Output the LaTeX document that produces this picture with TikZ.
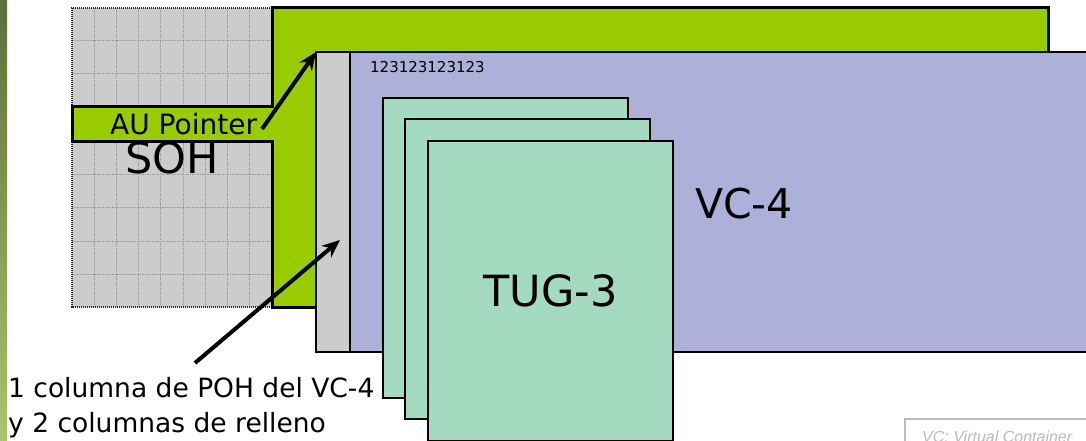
\documentclass[tikz,border=0pt]{standalone}
\usepackage{fontspec}
\setmainfont{DejaVu Sans}
\newfontfamily\arialfont{Liberation Sans}
\usetikzlibrary{arrows.meta}
\definecolor{augreen}{HTML}{99CC00}
\definecolor{sohgray}{HTML}{CCCCCC}
\definecolor{vcpurple}{HTML}{ADB0D8}
\definecolor{tugmint}{HTML}{A3DAC0}
\definecolor{stripTop}{HTML}{5F6E3A}
\definecolor{stripBot}{HTML}{AAC470}
\definecolor{noteGray}{HTML}{BBBBBB}
\tikzset{
  gridline/.style={draw=black!40, line width=1pt, dash pattern=on 1.5pt off 1pt},
  greenshape/.style={fill=augreen, draw=black, line width=3pt, line join=miter},
  boxline/.style={draw=black, line width=2pt},
  tug/.style={boxline, fill=tugmint, anchor=north west, inner sep=0pt,
    minimum width=245, minimum height=300},
  ptr/.style={line width=4pt, -{Stealth[length=18pt, width=15pt]}},
  lbl/.style={inner sep=0pt, anchor=base west},
}
\begin{document}
\begin{tikzpicture}[x=1pt,y=-1pt]
\path[clip] (0,0) rectangle (1086,441);
\fill[white] (0,0) rectangle (1086,441);
% left strip
\shade[top color=stripTop, bottom color=stripBot] (0,0) rectangle (7,441);
% SOH grid
\fill[sohgray] (72,8) rectangle (272,307);
\foreach \c in {1,...,8} {
  \draw[gridline] ({72+22.22*\c},8) -- ({72+22.22*\c},307);
}
\foreach \r in {41,74,174,207,241,274} {
  \draw[gridline] (72,\r) -- (272,\r);
}
\draw[black!85, line width=2pt, dash pattern=on 1.2pt off 0.8pt] (272,8) -- (72,8) -- (72,307) -- (272,307);
% green AU area with pointer band
\draw[greenshape] (272,8) -- (1048,8) -- (1048,307) -- (272,307) -- (272,141)
  -- (72,141) -- (72,107) -- (272,107) -- cycle;
% VC-4 with POH column
\filldraw[boxline, fill=vcpurple] (350,52) rectangle (1100,352);
\filldraw[boxline, fill=sohgray] (316,52) rectangle (350,352);
\coordinate (vctl) at (316,52);
\coordinate (pohpt) at (340,240);
% TUG-3 boxes
\node[tug] (tugA) at (382,97) {};
\node[tug] (tugB) at (404,118) {};
\node[tug, font=\fontsize{43}{46}\selectfont] (tugC) at (427,140) {TUG-3};
% texts
\node[lbl, font=\fontsize{15}{17}\selectfont] (bytes) at (370,73) {123123123123};
\node[lbl, font=\fontsize{28}{30}\selectfont] (aup) at (110,135) {AU Pointer};
\node[lbl, font=\fontsize{43}{46}\selectfont] (soh) at (125,173) {SOH};
\node[lbl, font=\fontsize{41}{44}\selectfont] (vc4) at (695,218) {VC-4};
\node[lbl, font=\fontsize{26.5}{30}\selectfont] (poh1) at (8,397) {1 columna de POH del VC-4};
\node[lbl, font=\fontsize{26.5}{30}\selectfont] (poh2) at (8,432) {y 2 columnas de relleno};
\coordinate (aupend) at (262,129);
\coordinate (pohstart) at (195,363);
% arrows
\draw[ptr] (aupend) -- (vctl);
\draw[ptr] (pohstart) -- (pohpt);
% note box
\draw[noteGray, line width=1.5pt] (905,419) rectangle (1100,470);
\node[lbl, text=noteGray, font=\arialfont\itshape\fontsize{16}{18}\selectfont] (note) at (922,442) {VC: Virtual Container};
\end{tikzpicture}
\end{document}
